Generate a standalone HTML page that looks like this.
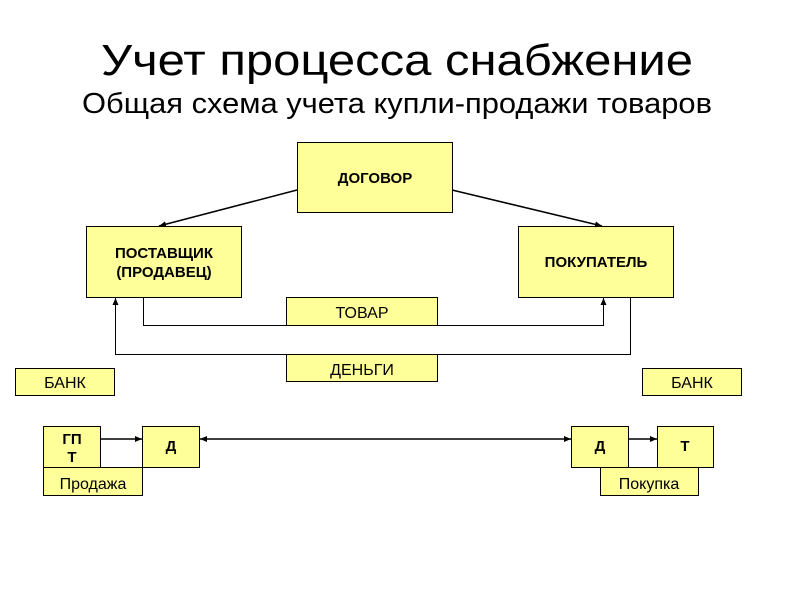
<!DOCTYPE html>
<html><head><meta charset="utf-8"><style>
html,body{margin:0;padding:0;background:#fff;}
svg{display:block}
text{font-family:"Liberation Sans",Arial,sans-serif;}
</style></head><body>
<svg width="794" height="595" viewBox="0 0 794 595" xmlns="http://www.w3.org/2000/svg">
<defs>
<marker id="a" markerWidth="8" markerHeight="8" refX="7" refY="4" orient="auto" markerUnits="userSpaceOnUse">
<path d="M0,1 L7,4 L0,7 z" fill="#000"/></marker>
<marker id="s" markerWidth="8" markerHeight="8" refX="1" refY="4" orient="auto" markerUnits="userSpaceOnUse">
<path d="M8,1 L1,4 L8,7 z" fill="#000"/></marker>
</defs>
<text x="397" y="75" font-size="44" text-anchor="middle" textLength="592" lengthAdjust="spacingAndGlyphs">Учет процесса снабжение</text>
<text x="397" y="113" font-size="29" text-anchor="middle" textLength="630" lengthAdjust="spacingAndGlyphs">Общая схема учета купли-продажи товаров</text>
<g fill="#ffff99" stroke="#000" stroke-width="1">
<rect x="297.5" y="142.5" width="155" height="70"/>
<rect x="86.5" y="226.5" width="155" height="71"/>
<rect x="518.5" y="226.5" width="155" height="71"/>
<rect x="286.5" y="297.5" width="151" height="28"/>
<rect x="286.5" y="354.5" width="151" height="27"/>
<rect x="15.5" y="368.5" width="99" height="27"/>
<rect x="642.5" y="368.5" width="99" height="27"/>
<rect x="43.5" y="426.5" width="57" height="41"/>
<rect x="142.5" y="426.5" width="57" height="41"/>
<rect x="43.5" y="467.5" width="99" height="28"/>
<rect x="571.5" y="426.5" width="57" height="41"/>
<rect x="657.5" y="426.5" width="56" height="41"/>
<rect x="600.5" y="467.5" width="98" height="28"/>
</g>
<g stroke="#000" fill="none">
<line x1="297" y1="190" x2="159" y2="226" stroke-width="1.5" marker-end="url(#a)"/>
<line x1="452" y1="190" x2="602" y2="226" stroke-width="1.5" marker-end="url(#a)"/>
<polyline points="143.5,297 143.5,325.5 603.5,325.5 603.5,298" marker-end="url(#a)"/>
<polyline points="630.5,297 630.5,354.5 115.5,354.5 115.5,298" marker-end="url(#a)"/>
<line x1="101" y1="439" x2="142" y2="439" stroke-width="1.5" marker-end="url(#a)"/>
<line x1="200" y1="439" x2="571" y2="439" stroke-width="1.5" marker-start="url(#s)" marker-end="url(#a)"/>
<line x1="629" y1="439" x2="657" y2="439" stroke-width="1.5" marker-end="url(#a)"/>
</g>
<g font-size="15" text-anchor="middle" font-weight="bold">
<text x="375" y="183">ДОГОВОР</text>
<text x="164" y="258">ПОСТАВЩИК</text>
<text x="164" y="277">(ПРОДАВЕЦ)</text>
<text x="596" y="267">ПОКУПАТЕЛЬ</text>
<text x="72" y="444">ГП</text>
<text x="72" y="462">Т</text>
<text x="171" y="451">Д</text>
<text x="600" y="451">Д</text>
<text x="685" y="451">Т</text>
</g>
<g font-size="16" text-anchor="middle">
<text x="362" y="318">ТОВАР</text>
<text x="362" y="375">ДЕНЬГИ</text>
<text x="65" y="388">БАНК</text>
<text x="692" y="388">БАНК</text>
<text x="93" y="489">Продажа</text>
<text x="649" y="489">Покупка</text>
</g>
</svg>
</body></html>
